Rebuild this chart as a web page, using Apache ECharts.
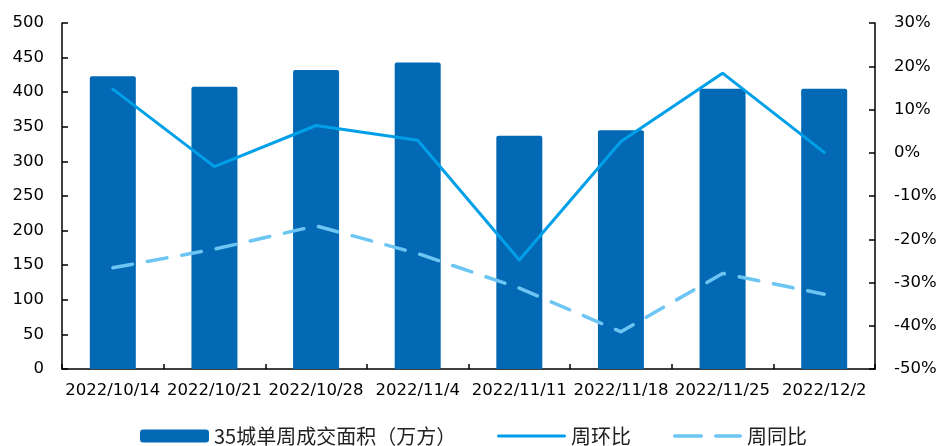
<!DOCTYPE html>
<html>
<head>
<meta charset="utf-8">
<script src="https://cdn.jsdelivr.net/npm/echarts@6/dist/echarts.min.js"></script>
<style>
  html, body { margin: 0; padding: 0; background: #fff; }
  #chart { width: 942px; height: 446px; }
</style>
</head>
<body>
<div id="chart"></div>
<script>
// Weekly dates
const weeks = ['2022/10/14', '2022/10/21', '2022/10/28', '2022/11/4', '2022/11/11', '2022/11/18', '2022/11/25', '2022/12/2'];
// 35-city weekly transaction area (10k m²)
const area = [423, 408, 432, 443, 337, 345, 405, 405];
// Week-over-week change (%)
const wow = [14.7, -3.2, 6.3, 2.9, -24.8, 2.6, 18.4, 0.1];
// Year-over-year change (%)
const yoy = [-26.6, -22.3, -16.9, -23.3, -31.3, -41.4, -27.9, -32.7];

const seriesNames = ['35城单周成交面积（万方）', '周环比', '周同比'];

const leftTicks = { min: 0, max: 500, interval: 50 };
const rightTicks = { min: -50, max: 30, interval: 10 };

const axisFont = { fontFamily: 'DejaVu Sans', fontSize: 16.5, color: '#000' };
const axisLine = { show: true, lineStyle: { color: '#000', width: 1.5 } };

// legend swatches for the two line series
const solidIcon = 'path://M1.5,0 H68.5 A1.5,1.5 0 0 1 68.5,3 H1.5 A1.5,1.5 0 0 1 1.5,0 Z';
const dashIcon = 'path://M1.75,0 H28.25 A1.75,1.75 0 0 1 28.25,3.5 H1.75 A1.75,1.75 0 0 1 1.75,0 Z M42.75,0 H67.25 A1.75,1.75 0 0 1 67.25,3.5 H42.75 A1.75,1.75 0 0 1 42.75,0 Z';
const legendIcons = ['roundRect', solidIcon, dashIcon];
const legendLefts = [135, 492, 668];

const legends = seriesNames.map((name, i) => ({
  left: legendLefts[i],
  top: 421,
  itemWidth: 69,
  itemHeight: 13,
  textStyle: { fontFamily: '"Noto Sans CJK SC", "DejaVu Sans"', fontSize: 20, color: '#222' },
  data: [{ name: name, icon: legendIcons[i] }]
}));

const chart = echarts.init(document.getElementById('chart'), null, { renderer: 'canvas' });
chart.setOption({
  animation: false,
  backgroundColor: '#fff',
  grid: { left: 62, right: 67, top: 23, bottom: 77, containLabel: false },
  legend: legends,
  xAxis: {
    type: 'category',
    data: weeks,
    boundaryGap: true,
    axisLine: axisLine,
    axisTick: { show: true, inside: true, length: 5, lineStyle: { color: '#000', width: 1.5 } },
    axisLabel: Object.assign({ margin: 13, interval: 0 }, axisFont)
  },
  yAxis: [
    {
      type: 'value',
      min: leftTicks.min, max: leftTicks.max, interval: leftTicks.interval,
      position: 'left',
      axisLine: axisLine,
      axisTick: { show: true, inside: true, length: 6, lineStyle: { color: '#000', width: 1.5 } },
      splitLine: { show: false },
      axisLabel: Object.assign({ margin: 18 }, axisFont)
    },
    {
      type: 'value',
      min: rightTicks.min, max: rightTicks.max, interval: rightTicks.interval,
      position: 'right',
      axisLine: axisLine,
      axisTick: { show: true, inside: true, length: 6, lineStyle: { color: '#000', width: 1.5 } },
      splitLine: { show: false },
      axisLabel: Object.assign({ margin: 19, formatter: v => v + '%' }, axisFont)
    }
  ],
  series: [
    {
      name: seriesNames[0],
      type: 'bar',
      yAxisIndex: 0,
      data: area,
      barWidth: 46,
      itemStyle: { color: '#0369b5', borderRadius: [2, 2, 0, 0] },
      z: 1
    },
    {
      name: seriesNames[1],
      type: 'line',
      yAxisIndex: 1,
      data: wow,
      symbol: 'none',
      lineStyle: { color: '#00a0e9', width: 3, join: 'round', cap: 'round' },
      itemStyle: { color: '#00a0e9' },
      z: 3
    },
    {
      name: seriesNames[2],
      type: 'line',
      yAxisIndex: 1,
      data: yoy,
      symbol: 'none',
      lineStyle: { color: '#6cc5f2', width: 3.5, type: [20, 15], cap: 'round', join: 'round' },
      itemStyle: { color: '#6cc5f2' },
      z: 2
    }
  ]
});
</script>
</body>
</html>
